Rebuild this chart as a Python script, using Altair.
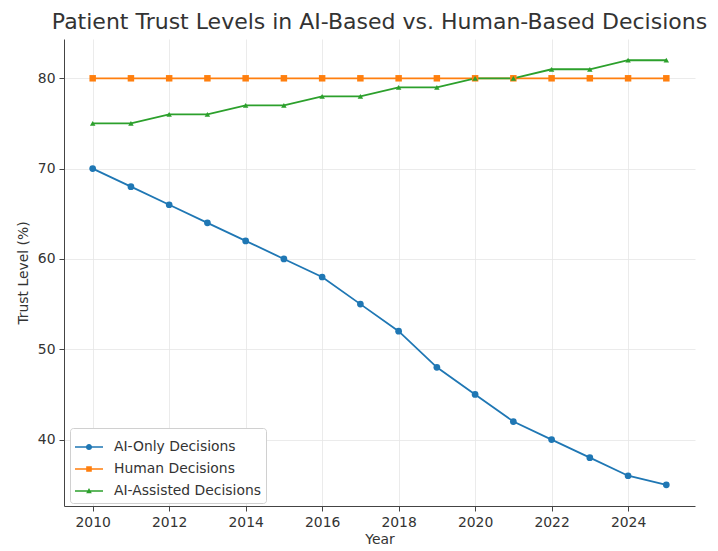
import altair as alt
import pandas as pd

# Survey years and trust levels (%) for each decision mode
years = list(range(2010, 2026))
ai_only = [70, 68, 66, 64, 62, 60, 58, 55, 52, 48, 45, 42, 40, 38, 36, 35]
human = [80, 80, 80, 80, 80, 80, 80, 80, 80, 80, 80, 80, 80, 80, 80, 80]
ai_assisted = [75, 75, 76, 76, 77, 77, 78, 78, 79, 79, 80, 80, 81, 81, 82, 82]

series_names = ["AI-Only Decisions", "Human Decisions", "AI-Assisted Decisions"]
series_colors = ["#1f77b4", "#ff7f0e", "#2ca02c"]
marker_shapes = ["circle", "square", "triangle-up"]

# Legend glyphs: a short line segment with the series marker on top
line_seg = "M-1,-0.055 L1,-0.055 L1,0.055 L-1,0.055 Z "
legend_glyphs = [
    line_seg + "M-0.22,0 A0.22,0.22 0 1,1 0.22,0 A0.22,0.22 0 1,1 -0.22,0 Z",
    line_seg + "M-0.2,-0.2 L0.2,-0.2 L0.2,0.2 L-0.2,0.2 Z",
    line_seg + "M0,-0.22 L0.2,0.16 L-0.2,0.16 Z",
]

rows = []
for name, values in zip(series_names, [ai_only, human, ai_assisted]):
    for yr, v in zip(years, values):
        rows.append({"Year": yr, "Trust": v, "Series": name})
df = pd.DataFrame(rows)

FONT = "DejaVu Sans"
TEXT = "#333333"

x_enc = alt.X(
    "Year:Q",
    scale=alt.Scale(domain=[2009.25, 2025.75], nice=False, zero=False),
    axis=alt.Axis(values=list(range(2010, 2025, 2)), format="d", title="Year"),
)
y_enc = alt.Y(
    "Trust:Q",
    scale=alt.Scale(domain=[32.65, 84.35], nice=False, zero=False),
    axis=alt.Axis(values=[40, 50, 60, 70, 80], title="Trust Level (%)"),
)
# Line/marker colours: domain ordered by a sort list so this scale stays
# separate from the legend scales below
series_color = alt.Color(
    "Series:N", sort=series_names,
    scale=alt.Scale(range=series_colors), legend=None,
)

legend_opts = dict(
    title=None, orient="none", legendX=6, legendY=389,
    strokeColor="#d0d0d0", fillColor="white", cornerRadius=3, padding=5,
    labelFont=FONT, labelFontSize=13.9, labelColor=TEXT,
    symbolSize=784, symbolOpacity=1, symbolStrokeWidth=0,
    rowPadding=1, labelOffset=11,
)

base = alt.Chart(df)

lines = base.mark_line(strokeWidth=1.8).encode(
    x=x_enc, y=y_enc, color=series_color, detail="Series:N",
)

point_layers = []
for name, shp, sz in zip(series_names, marker_shapes, [45, 42, 30]):
    point_layers.append(
        base.transform_filter(alt.datum.Series == name)
        .mark_point(filled=True, shape=shp, size=sz, opacity=1)
        .encode(x=x_enc, y=y_enc, color=series_color)
    )

# Invisible layer whose fill/shape scales produce the legend
legend_layer = base.mark_point(filled=True, opacity=0.001).encode(
    x=x_enc, y=y_enc,
    fill=alt.Fill(
        "Series:N",
        scale=alt.Scale(domain=series_names, range=series_colors),
        legend=alt.Legend(**legend_opts),
    ),
    shape=alt.Shape(
        "Series:N",
        scale=alt.Scale(domain=series_names, range=legend_glyphs),
        legend=alt.Legend(**legend_opts),
    ),
)

chart = (
    alt.layer(lines, *point_layers, legend_layer)
    .properties(
        width=631,
        height=467,
        padding={"left": 64, "top": 39, "right": 23, "bottom": 45},
        autosize=alt.AutoSizeParams(type="none"),
        title=alt.Title(
            "Patient Trust Levels in AI-Based vs. Human-Based Decisions",
            fontSize=22, font=FONT, fontWeight="normal", color=TEXT,
            anchor="middle", offset=5,
        ),
    )
    .configure_view(stroke=None)
    .configure_axis(
        labelFont=FONT, titleFont=FONT, labelFontSize=13.9, titleFontSize=13.9,
        labelColor=TEXT, titleColor=TEXT, titleFontWeight="normal",
        domainColor="#444444", tickColor="#444444", tickSize=5,
        gridColor="#e6e6e6", gridWidth=0.8, labelPadding=4,
    )
    .configure_axisY(titlePadding=7)
    .configure_axisX(titlePadding=4)
)

chart.save("out.html", embed_options={"renderer": "svg", "actions": False})
